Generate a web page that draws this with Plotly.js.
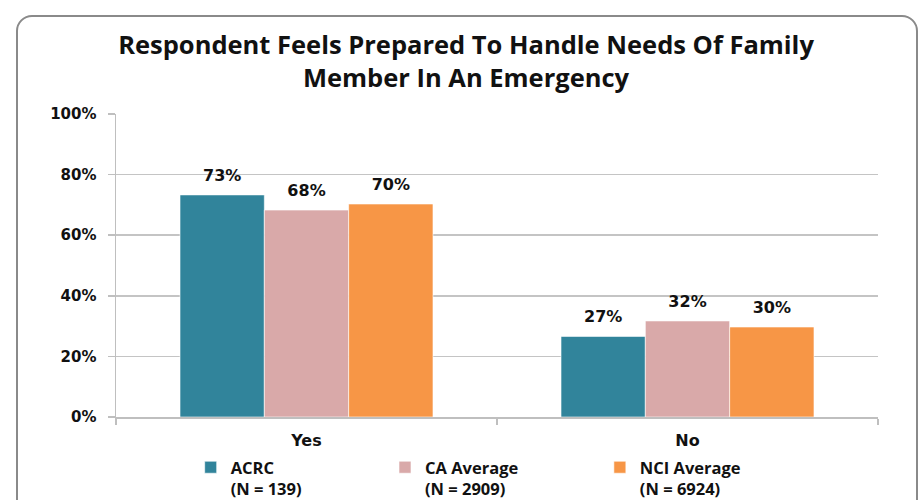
<!DOCTYPE html>
<html>
<head>
<meta charset="utf-8">
<script src="https://cdn.plot.ly/plotly-3.0.1.min.js"></script>
<style>
  html, body { margin: 0; padding: 0; width: 921px; height: 500px; overflow: hidden; background: #fff; }
  #frame { position: absolute; left: 16px; top: 15px; width: 898px; height: 520px;
           border: 2px solid #8a8a8a; border-radius: 16px; box-sizing: content-box; }
  #chart { position: absolute; left: 0; top: 0; width: 921px; height: 500px; }
</style>
</head>
<body>
<div id="frame"></div>
<div id="chart"></div>
<script>
const categories = ['Yes', 'No'];
const acrcValues = [73.3, 26.6];
const caValues = [68.3, 31.7];
const nciValues = [70.3, 29.7];
const seriesNames = ['ACRC', 'CA Average', 'NCI Average'];
const sampleSizes = ['139', '2909', '6924'];
const yTickValues = [0, 20, 40, 60, 80, 100];
const yTickLabels = ['0%', '20%', '40%', '60%', '80%', '100%'];

const colors = ['#31849B', '#D9A9A9', '#F79646'];
const seriesValues = [acrcValues, caValues, nciValues];
const legendIds = ['legend', 'legend2', 'legend3'];

const traces = seriesValues.map((vals, i) => ({
  type: 'bar',
  x: categories,
  y: vals,
  name: seriesNames[i] + '<br>(N = ' + sampleSizes[i] + ')',
  legend: legendIds[i],
  marker: { color: colors[i], line: { color: 'rgba(255,255,255,0.6)', width: 1 } },
  texttemplate: '<span style="font-size:16px">%{y:.0f}%</span><br>\u00a0',
  textposition: 'outside',
  cliponaxis: false,
  textfont: { family: 'DejaVu Sans', size: 7, weight: 'bold', color: '#111' },
  hoverinfo: 'x+y+name'
}));

const legendBase = {
  orientation: 'h',
  yref: 'container', y: 0.1, yanchor: 'top',
  xanchor: 'left',
  valign: 'top',
  bgcolor: 'rgba(0,0,0,0)',
  font: { family: 'Open Sans', size: 16.5, weight: 'bold', color: '#111' }
};

const layout = {
  width: 921, height: 500,
  paper_bgcolor: 'rgba(0,0,0,0)',
  plot_bgcolor: 'rgba(0,0,0,0)',
  margin: { l: 116, r: 43, t: 114, b: 83 },
  title: {
    text: 'Respondent Feels Prepared To Handle Needs Of Family<br>Member In An Emergency',
    font: { family: 'Open Sans', size: 25.5, weight: 'bold', color: '#111' },
    xref: 'container', x: 0.506, xanchor: 'center',
    yref: 'container', y: 0.892, yanchor: 'middle'
  },
  barmode: 'group',
  bargap: 0.336,
  bargroupgap: 0,
  xaxis: {
    type: 'category',
    showline: true, linecolor: '#bfbfbf', linewidth: 1.5,
    ticks: 'outside', tickson: 'boundaries', ticklen: 6, tickcolor: '#bfbfbf', tickwidth: 1.5,
    ticklabelstandoff: 8,
    tickfont: { family: 'DejaVu Sans', size: 16, weight: 'bold', color: '#111' },
    showgrid: false
  },
  yaxis: {
    range: [0, 100],
    tickvals: yTickValues,
    ticktext: yTickLabels,
    showline: true, linecolor: '#bfbfbf', linewidth: 1.5,
    ticks: 'outside', ticklen: 7, tickcolor: '#bfbfbf', tickwidth: 1.5,
    ticklabelstandoff: 8,
    showgrid: true, gridcolor: '#c4c4c4', gridwidth: 1.5,
    zeroline: false,
    tickfont: { family: 'DejaVu Sans', size: 15, weight: 'bold', color: '#111' }
  },
  legend: Object.assign({}, legendBase, { x: 0.098 }),
  legend2: Object.assign({}, legendBase, { x: 0.353 }),
  legend3: Object.assign({}, legendBase, { x: 0.635 }),
  showlegend: true
};

Plotly.newPlot('chart', traces, layout, { displayModeBar: false, staticPlot: true });
</script>
</body>
</html>
